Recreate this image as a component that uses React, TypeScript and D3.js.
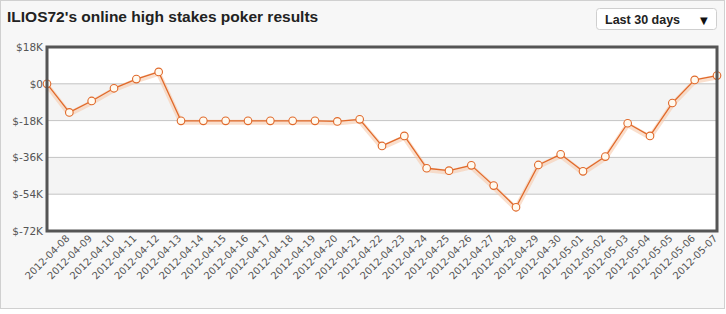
import React, { useEffect } from "react";
import * as d3 from "d3";

const dates = [
  "2012-04-08","2012-04-09","2012-04-10","2012-04-11","2012-04-12","2012-04-13","2012-04-14",
  "2012-04-15","2012-04-16","2012-04-17","2012-04-18","2012-04-19","2012-04-20","2012-04-21",
  "2012-04-22","2012-04-23","2012-04-24","2012-04-25","2012-04-26","2012-04-27","2012-04-28",
  "2012-04-29","2012-04-30","2012-05-01","2012-05-02","2012-05-03","2012-05-04","2012-05-05",
  "2012-05-06","2012-05-07",
];
// first value is the starting point (unlabelled), then one per date
const values = [
  0, -14.0, -8.4, -2.2, 2.3, 5.8, -18.1, -18.1, -18.1, -18.1, -18.1, -18.1, -18.1, -18.4, -17.4,
  -30.4, -25.5, -41.3, -42.5, -39.9, -49.8, -60.4, -39.7, -34.5, -42.8, -35.6, -19.3, -25.5,
  -9.4, 1.9, 4.0,
];
const yTicks = [18, 0, -18, -36, -54, -72];
const yTickLabels = ["$18K", "$0", "$-18K", "$-36K", "$-54K", "$-72K"];
const title = "ILIOS72's online high stakes poker results";
const rangeLabel = "Last 30 days";

export default function App() {
  useEffect(() => {
    document.body.style.margin = "0";
  }, []);
  const W = 726, H = 314;
  const left = 47, right = 717, top = 47, bottom = 231;
  const x = d3.scaleLinear().domain([0, values.length - 1]).range([left, right]);
  const y = d3.scaleLinear().domain([-72, 18]).range([bottom, top]);
  const line = d3.line<number>().x((_, i) => x(i)).y((d) => y(d));
  const path = line(values) || "";
  const bands = [];
  for (let i = 0; i < yTicks.length - 1; i++) {
    bands.push({ y0: yTicks[i], y1: yTicks[i + 1], fill: i % 2 === 1 ? "#f4f4f4" : "#ffffff" });
  }
  return (
    <svg width={W} height={H} style={{ display: "block" }}>
      <rect x={0} y={0} width={W} height={H} fill="#ffffff" />
      <rect x={0.5} y={0.5} width={724} height={308} fill="#f7f7f7" stroke="#d0d0d0" />
      <text x={7} y={22} fontFamily="Liberation Sans, Arial, sans-serif" fontWeight="bold" fontSize={15.5} fill="#222">
        {title}
      </text>
      <rect x={596.5} y={8.5} width={120} height={21} rx={3} fill="#ffffff" stroke="#cfcfcf" />
      <text x={605} y={24} fontFamily="Liberation Sans, Arial, sans-serif" fontWeight="bold" fontSize={12.5} fill="#222">
        {rangeLabel}
      </text>
      <text x={700} y={24} fontFamily="DejaVu Sans, sans-serif" fontSize={10} fill="#111">▼</text>
      {bands.map((b, i) => (
        <rect key={i} x={left} y={y(b.y0)} width={right - left} height={y(b.y1) - y(b.y0)} fill={b.fill} />
      ))}
      {yTicks.slice(1, -1).map((t) => (
        <line key={t} x1={left} x2={right} y1={y(t)} y2={y(t)} stroke="#c4c4c4" strokeWidth={1} />
      ))}
      {yTicks.map((t, i) => (
        <text key={t} x={43} y={y(t) + 4} textAnchor="end" fontFamily="DejaVu Sans, Verdana, sans-serif" fontSize={10.5} fill="#555">
          {yTickLabels[i]}
        </text>
      ))}
      <path d={path} fill="none" stroke="#f7c9ab" strokeWidth={5} strokeOpacity={0.6} transform="translate(0,1.5)" strokeLinejoin="round" />
      <path d={path} fill="none" stroke="#e0692a" strokeWidth={1.3} strokeLinejoin="round" />
      {values.map((v, i) => (
        <circle key={i} cx={x(i)} cy={y(v)} r={3.8} fill="#fffaf0" stroke="#e0692a" strokeWidth={1.1} />
      ))}
      <rect x={left} y={top} width={right - left} height={bottom - top} fill="none" stroke="#555" strokeWidth={3} />
      {dates.map((d, i) => (
        <text
          key={d}
          transform={`translate(${x(i + 1) + 1},${bottom + 8}) rotate(-45)`}
          textAnchor="end"
          fontFamily="DejaVu Sans, Verdana, sans-serif"
          fontSize={10}
          fill="#555"
        >
          {d}
        </text>
      ))}
    </svg>
  );
}
